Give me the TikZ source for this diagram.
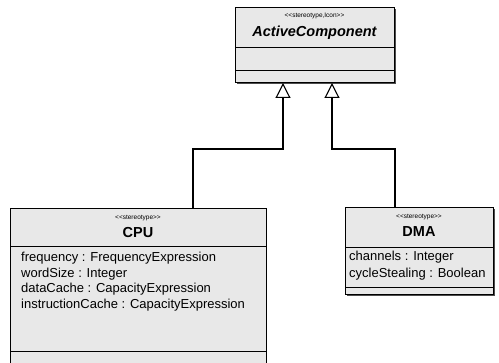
\documentclass[tikz,border=0pt]{standalone}
\usepackage{fontspec}
\setmainfont{Liberation Sans}
\usetikzlibrary{arrows.meta}
\definecolor{boxfill}{gray}{0.91}
\newcommand{\stopen}{<{}<}
\newcommand{\stclose}{>{}>}
\tikzset{
  classbox/.style={draw=black, line width=1pt, fill=boxfill, rectangle, inner sep=0pt, anchor=north west},
  divider/.style={draw=black, line width=1pt},
  shade/.style={fill=black!70, draw=none},
  stereo/.style={font=\fontsize{6.5}{8}\selectfont, inner sep=0pt},
  cname/.style={font=\fontsize{14.5}{16}\selectfont\bfseries, inner sep=0pt},
  aname/.style={font=\fontsize{14.5}{16}\selectfont\bfseries\itshape, inner sep=0pt},
  attr/.style={font=\fontsize{13}{15}\selectfont, inner sep=0pt, anchor=base west},
  gen/.style={draw=black, line width=1.1pt, -{Triangle[open, length=15pt, width=15pt, fill=white, line width=1.1pt]}}
}
\begin{document}
\begin{tikzpicture}[x=1pt, y=-1pt]
\useasboundingbox (0,0) rectangle (499,363);
\begin{scope}
\clip (0,0) rectangle (499,363);

% ---- ActiveComponent ----
\fill[shade] (237,9) rectangle (396,84);
\node[classbox, minimum width=159pt, minimum height=75pt] (ac) at (235,7) {};
\draw[divider] (ac.west |- 0,48) -- (ac.east |- 0,48);
\draw[divider] (ac.west |- 0,71) -- (ac.east |- 0,71);
\node[stereo] (acst) at (314.5,16) {\stopen stereotype,Icon\stclose};
\node[aname] (acnm) at (314.5,33) {ActiveComponent};

% ---- CPU ----
\node[classbox, minimum width=256pt, minimum height=170pt] (cpu) at (10,208) {};
\draw[divider] (cpu.west |- 0,247) -- (cpu.east |- 0,247);
\draw[divider] (cpu.west |- 0,352) -- (cpu.east |- 0,352);
\node[stereo] (cpust) at (138,218) {\stopen stereotype\stclose};
\node[cname] (cpunm) at (138,233) {CPU};
\node[attr] (cpua1) at (21,262) {frequency : FrequencyExpression};
\node[attr] (cpua2) at (21,277.5) {wordSize : Integer};
\node[attr] (cpua3) at (21,293) {dataCache : CapacityExpression};
\node[attr] (cpua4) at (21,308.5) {instructionCache : CapacityExpression};

% ---- DMA ----
\fill[shade] (347,209) rectangle (495,296);
\node[classbox, minimum width=148pt, minimum height=87pt] (dma) at (345,207) {};
\draw[divider] (dma.west |- 0,248) -- (dma.east |- 0,248);
\draw[divider] (dma.west |- 0,288) -- (dma.east |- 0,288);
\node[stereo] (dmast) at (419,217) {\stopen stereotype\stclose};
\node[cname] (dmanm) at (419,232) {DMA};
\node[attr] (dmaa1) at (349,261) {channels : Integer};
\node[attr] (dmaa2) at (349,278) {cycleStealing : Boolean};

% ---- generalisations ----
\coordinate (bendA) at (193,149);
\coordinate (bendB) at (395,149);
\coordinate (tipA) at (283,82);
\coordinate (tipB) at (332,82);
\draw[gen] (cpu.north -| bendA) -- (bendA) -| (ac.south -| tipA);
\draw[gen] (dma.north -| bendB) -- (bendB) -| (ac.south -| tipB);
\end{scope}
\end{tikzpicture}
\end{document}
